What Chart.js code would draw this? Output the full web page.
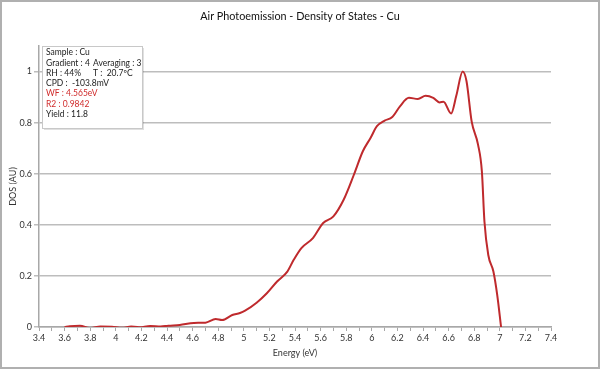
<!DOCTYPE html>
<html>
<head>
<meta charset="utf-8">
<script src="https://cdn.jsdelivr.net/npm/chart.js@4/dist/chart.umd.min.js"></script>
<style>
    html, body { margin: 0; padding: 0; background: #fff; }
    #wrap { width: 600px; height: 369px; }
</style>
</head>
<body>
<div id="wrap"><canvas id="chart" width="600" height="369"></canvas></div>
<script>
const fontFamily = "Lato, 'Open Sans', sans-serif";

const energy = [3.60, 3.64, 3.72, 3.80, 3.88, 3.97, 4.05, 4.12, 4.19, 4.27, 4.35, 4.41, 4.50, 4.61, 4.70, 4.78, 4.83, 4.91, 4.97,
    5.01, 5.10, 5.18, 5.26, 5.34, 5.39, 5.45, 5.54, 5.62, 5.70, 5.78, 5.86, 5.93, 5.99, 6.04, 6.10, 6.16, 6.22, 6.29, 6.36,
    6.42, 6.48, 6.53, 6.56, 6.62, 6.66, 6.71, 6.74, 6.78, 6.83, 6.86, 6.88, 6.91, 6.95, 6.98, 7.01];
const dos = [0.000, 0.003, 0.005, -0.004, 0.002, 0.001, -0.003, 0.002, -0.001, 0.004, 0.002, 0.005, 0.008, 0.016, 0.017, 0.031, 0.027, 0.047, 0.055,
    0.064, 0.095, 0.132, 0.178, 0.217, 0.263, 0.309, 0.348, 0.407, 0.433, 0.498, 0.596, 0.688, 0.740, 0.786, 0.808, 0.822, 0.864, 0.897, 0.893,
    0.905, 0.897, 0.879, 0.882, 0.836, 0.905, 1.000, 0.962, 0.805, 0.714, 0.609, 0.413, 0.282, 0.217, 0.125, 0.000];

const chartTitle = "Air Photoemission - Density of States - Cu";
const xTitle = "Energy (eV)";
const yTitle = "DOS (AU)";

// info box lines: [left text, right text, colour]
const infoLines = [
    ["Sample : Cu", "", "#222"],
    ["Gradient : 4", "Averaging : 3", "#222"],
    ["RH : 44%", "T :  20.7\u00baC", "#222"],
    ["CPD :  -103.8mV", "", "#222"],
    ["WF : 4.565eV", "", "#d02c2c"],
    ["R2 : 0.9842", "", "#d02c2c"],
    ["Yield : 11.8", "", "#222"]
];

const points = energy.map((e, i) => ({ x: e, y: dos[i] }));

const framePlugin = {
    id: "frame",
    afterDraw(chart) {
        const ctx = chart.ctx;
        const area = chart.chartArea;
        ctx.save();
        // outer border
        ctx.strokeStyle = "#b0b0b0";
        ctx.lineWidth = 2;
        ctx.strokeRect(1, 1, chart.width - 2, chart.height - 2);

        // title, centred on the whole picture
        ctx.fillStyle = "#111";
        ctx.font = "10.8px " + fontFamily;
        ctx.textAlign = "center";
        ctx.textBaseline = "middle";
        ctx.fillText(chartTitle, chart.width / 2, 16.5);

        // info box
        const bx = area.left + 3, by = area.top, bw = 100, bh = 82;
        ctx.fillStyle = "rgba(0,0,0,0.12)";
        ctx.fillRect(bx + 2, by + 2, bw, bh);
        ctx.fillStyle = "#fff";
        ctx.fillRect(bx, by, bw, bh);
        ctx.strokeStyle = "#c8c8c8";
        ctx.lineWidth = 1;
        ctx.strokeRect(bx + 0.5, by + 0.5, bw, bh);

        ctx.font = "8.5px " + fontFamily;
        ctx.textAlign = "left";
        infoLines.forEach((line, i) => {
            const y = by + 6.5 + i * 10.3;
            ctx.fillStyle = line[2];
            ctx.fillText(line[0], bx + 4, y);
            if (line[1]) ctx.fillText(line[1], bx + 51, y);
        });
        ctx.restore();
    }
};

function fmt(v) {
    return String(Number(v.toFixed(1)));
}

const ctx = document.getElementById("chart").getContext("2d");
new Chart(ctx, {
    type: "line",
    data: {
        datasets: [{
            data: points,
            borderColor: "#bf2a2d",
            borderWidth: 2,
            pointRadius: 0,
            cubicInterpolationMode: "monotone",
            fill: false
        }]
    },
    options: {
        responsive: false,
        animation: false,
        layout: { padding: { left: 0, right: 49, top: 46, bottom: 0 } },
        plugins: {
            legend: { display: false },
            tooltip: { enabled: false },
            title: { display: false }
        },
        scales: {
            x: {
                type: "linear",
                min: 3.4,
                max: 7.4,
                afterFit: s => { s.height = 42; },
                ticks: {
                    stepSize: 0.1,
                    autoSkip: false,
                    maxTicksLimit: 100,
                    maxRotation: 0,
                    padding: 2,
                    color: "#333",
                    font: { family: fontFamily, size: 9 },
                    callback: v => (Math.round(v * 10) % 2 === 0 ? fmt(v) : "")
                },
                grid: {
                    drawOnChartArea: false,
                    drawTicks: true,
                    tickLength: 4,
                    color: "#a8a8a8"
                },
                border: { color: "#a8a8a8", width: 1.5 },
                title: {
                    display: true,
                    text: xTitle,
                    color: "#333",
                    font: { family: fontFamily, size: 9 },
                    padding: { top: 0, bottom: 10.6 }
                }
            },
            y: {
                min: 0,
                max: 1.1,
                afterFit: s => { s.width = 39; },
                afterBuildTicks: s => { s.ticks = s.ticks.filter(t => t.value <= 1.0001); },
                ticks: {
                    stepSize: 0.2,
                    padding: 2,
                    color: "#333",
                    font: { family: fontFamily, size: 9 },
                    callback: v => fmt(v)
                },
                grid: {
                    color: "#bdbdbd",
                    lineWidth: 1.5,
                    tickLength: 5
                },
                border: { color: "#a8a8a8", width: 1.5 },
                title: {
                    display: true,
                    text: yTitle,
                    color: "#333",
                    font: { family: fontFamily, size: 9 },
                    padding: { top: 7.6, bottom: 0 }
                }
            }
        }
    },
    plugins: [framePlugin]
});
</script>
</body>
</html>
